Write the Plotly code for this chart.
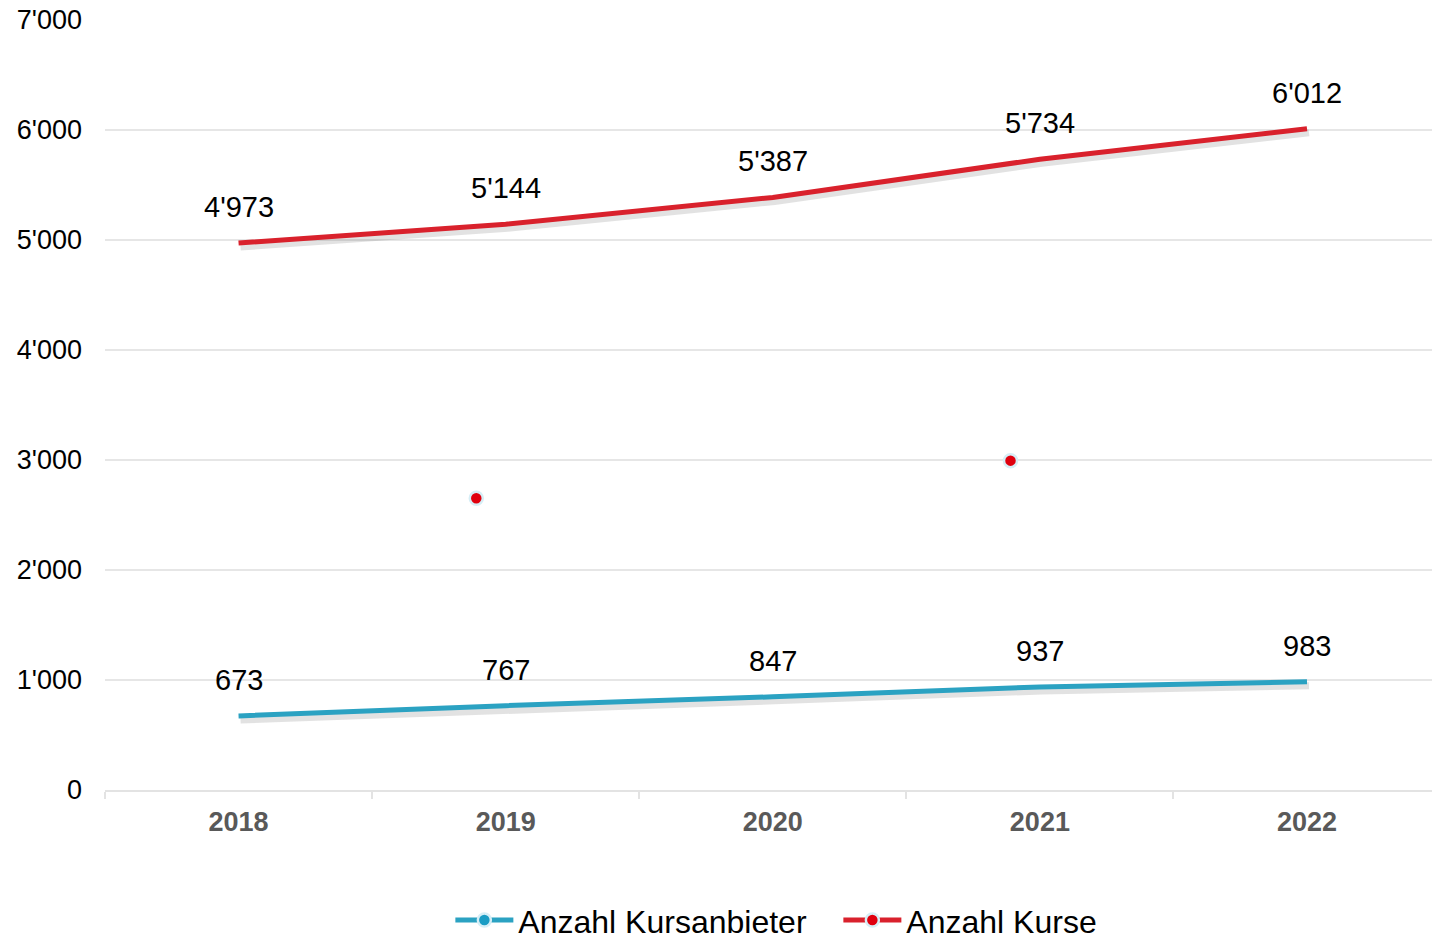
import plotly.graph_objects as go

years = [2018, 2019, 2020, 2021, 2022]
kursanbieter = [673, 767, 847, 937, 983]
kurse = [4973, 5144, 5387, 5734, 6012]
# stray marker points visible in the reference
stray_x = [2018.89, 2020.89]
stray_y = [2652, 2994]
y_ticks = [0, 1000, 2000, 3000, 4000, 5000, 6000, 7000]

blue = "#2BA2C2"
red = "#D9212C"
dot_red = "#E0000E"
dot_blue = "#1A9CC4"
outline = "#D6EEF6"
font_family = "Arial, Liberation Sans, sans-serif"

X_RANGE = [2017.5, 2022.468]
Y_RANGE = [0, 7000]
PLOT_W_PX = 1327
PLOT_H_PX = 770


def fmt(v):
    return f"{v:,}".replace(",", "'")


fig = go.Figure()

series = [("Anzahl Kursanbieter", kursanbieter, blue, dot_blue),
          ("Anzahl Kurse", kurse, red, dot_red)]

# soft shadows (base axes, drawn below)
for name, vals, col, dcol in series:
    fig.add_trace(go.Scatter(
        x=years, y=vals, mode="lines", showlegend=False,
        line=dict(color="rgba(60,60,60,0.15)", width=7),
        hoverinfo="skip", xaxis="x", yaxis="y",
    ))

# main lines on overlaying axes
for name, vals, col, dcol in series:
    fig.add_trace(go.Scatter(
        x=years, y=vals, name=name, mode="lines", showlegend=False,
        line=dict(color=col, width=5),
        hoverinfo="skip", xaxis="x2", yaxis="y2",
    ))

fig.add_trace(go.Scatter(
    x=stray_x, y=stray_y, mode="markers", showlegend=False,
    marker=dict(size=13, color=dot_red, line=dict(color=outline, width=2.5)),
    hoverinfo="skip", xaxis="x2", yaxis="y2",
))

# legend entries
for name, vals, col, dcol in series:
    fig.add_trace(go.Scatter(
        x=[None], y=[None], name=name, mode="lines+markers",
        line=dict(color=col, width=5),
        marker=dict(size=13, color=dcol, line=dict(color=outline, width=2.5)),
        xaxis="x2", yaxis="y2",
    ))

for vals in (kursanbieter, kurse):
    for x, v in zip(years, vals):
        fig.add_annotation(x=x, y=v, xref="x2", yref="y2", text=fmt(v), showarrow=False,
                           yanchor="middle", yshift=36,
                           font=dict(size=29, color="#000000", family=font_family))

# shadow offset: base axes shifted so shadow appears 2px right, 4px down
dx = 2 * (X_RANGE[1] - X_RANGE[0]) / PLOT_W_PX
dy = 4 * (Y_RANGE[1] - Y_RANGE[0]) / PLOT_H_PX

fig.update_layout(
    width=1432, height=940,
    margin=dict(l=105, r=0, t=20, b=150, autoexpand=False),
    plot_bgcolor="white", paper_bgcolor="white",
    separators=".'",
    font=dict(family=font_family, size=27, color="#000000"),
    showlegend=True,
    legend=dict(orientation="h", xref="container", yref="container",
                x=0.3145, xanchor="left", y=0.021, yanchor="middle",
                font=dict(size=32, color="#000000", family=font_family),
                itemwidth=58, tracegroupgap=0, entrywidth=315,
                bgcolor="rgba(0,0,0,0)"),
    xaxis=dict(
        range=[X_RANGE[0] - dx, X_RANGE[1] - dx], automargin=False,
        showticklabels=False, showgrid=False, zeroline=False, showline=False, ticks="",
    ),
    yaxis=dict(
        range=[Y_RANGE[0] + dy, Y_RANGE[1] + dy], automargin=False,
        showticklabels=False, showgrid=False, zeroline=False, showline=False, ticks="",
    ),
    xaxis2=dict(
        overlaying="x", anchor="y2", range=X_RANGE, automargin=False,
        tickvals=years, ticktext=[str(y) for y in years],
        tickfont=dict(size=27, color="#595959", family=font_family, weight="bold"),
        showgrid=False, zeroline=False,
        showline=True, linecolor="#E3E3E3", linewidth=2,
        ticks="", ticklabelstandoff=7,
        minor=dict(tick0=2017.5, dtick=1, ticks="outside", ticklen=7,
                   tickcolor="#E3E3E3", tickwidth=2, showgrid=False),
    ),
    yaxis2=dict(
        overlaying="y", anchor="x2", side="left", range=Y_RANGE, automargin=False,
        tickvals=y_ticks, tickformat=",",
        tickfont=dict(size=27, color="#000000", family=font_family),
        showgrid=True, gridcolor="#E6E6E6", gridwidth=2,
        zeroline=False, showline=False, ticks="", ticklabelstandoff=22,
    ),
)

fig.write_html(
    "out.html",
    config={"displayModeBar": False},
    post_script="document.body.style.margin='0';document.body.style.overflow='hidden';",
)
